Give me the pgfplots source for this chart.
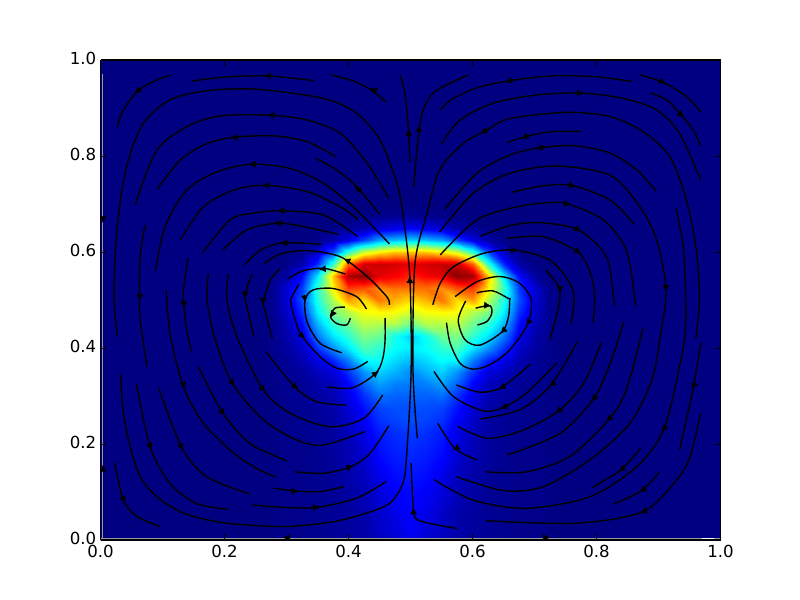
\documentclass[border=0pt]{standalone}
\usepackage{fontspec}
\setmainfont{DejaVu Sans}
\usepackage{pgfplots}
\pgfplotsset{compat=1.18}
\usetikzlibrary{arrows.meta}
\newcommand\slin[1]{\addplot[black,line width=1pt,smooth,tension=0.5,no markers] coordinates {#1};}
\newcommand\arw[1]{\addplot[black,line width=0.5pt,no markers,-{Latex[length=5pt,width=5pt]}] coordinates {#1};}
\begin{document}
\begin{tikzpicture}
\path[use as bounding box] (-1.005in,-0.6in) rectangle (6.995in,5.4in);
\begin{axis}[
  scale only axis, width=6.2in, height=4.8in,
  xmin=0,xmax=1,ymin=0,ymax=1,
  view={0}{90},
  colormap/jet, point meta min=0, point meta max=1,
  axis on top,
  axis line style={black,line width=0.8pt},
  tick align=inside, tick style={black,line width=0.5pt},
  major tick length=4pt,
  xtick={0,0.2,0.4,0.6,0.8,1}, ytick={0,0.2,0.4,0.6,0.8,1}, ztick=\empty,
  minor tick num=0,
  tick label style={font=\fontsize{12}{14}\selectfont},
  /pgf/number format/assume math mode=true,
  /pgf/number format/fixed, /pgf/number format/fixed zerofill, /pgf/number format/precision=1,
  xticklabel style={yshift=-0.5pt},
  yticklabel style={yshift=1pt,xshift=0.5pt},
]
\addplot3[surf,shader=interp,mesh/cols=23] coordinates {
(0,0,0)(.25,0,0)(.275,0,.005)(.3,0,.01)(.325,0,.01)(.35,0,.015)(.375,0,.02)(.4,0,.03)(.425,0,.04)(.45,0,.06)(.475,0,.08)(.5,0,.11)(.525,0,.08)(.55,0,.06)(.575,0,.04)(.6,0,.03)(.625,0,.02)(.65,0,.015)(.675,0,.01)(.7,0,.01)(.725,0,.005)(.75,0,0)(1,0,0)
(0,.025,0)(.25,.025,0)(.275,.025,.005)(.3,.025,.01)(.325,.025,.01)(.35,.025,.015)(.375,.025,.02)(.4,.025,.03)(.425,.025,.04)(.45,.025,.07)(.475,.025,.09)(.5,.025,.12)(.525,.025,.09)(.55,.025,.07)(.575,.025,.04)(.6,.025,.03)(.625,.025,.02)(.65,.025,.015)(.675,.025,.01)(.7,.025,.01)(.725,.025,.005)(.75,.025,0)(1,.025,0)
(0,.05,0)(.25,.05,0)(.275,.05,.005)(.3,.05,.01)(.325,.05,.01)(.35,.05,.015)(.375,.05,.02)(.4,.05,.03)(.425,.05,.04)(.45,.05,.07)(.475,.05,.10)(.5,.05,.12)(.525,.05,.10)(.55,.05,.07)(.575,.05,.04)(.6,.05,.03)(.625,.05,.02)(.65,.05,.015)(.675,.05,.01)(.7,.05,.01)(.725,.05,.005)(.75,.05,0)(1,.05,0)
(0,.075,0)(.25,.075,0)(.275,.075,.005)(.3,.075,.01)(.325,.075,.01)(.35,.075,.015)(.375,.075,.02)(.4,.075,.03)(.425,.075,.05)(.45,.075,.08)(.475,.075,.11)(.5,.075,.13)(.525,.075,.11)(.55,.075,.08)(.575,.075,.05)(.6,.075,.03)(.625,.075,.02)(.65,.075,.015)(.675,.075,.01)(.7,.075,.01)(.725,.075,.005)(.75,.075,0)(1,.075,0)
(0,.1,0)(.25,.1,0)(.275,.1,.005)(.3,.1,.01)(.325,.1,.01)(.35,.1,.015)(.375,.1,.02)(.4,.1,.035)(.425,.1,.05)(.45,.1,.09)(.475,.1,.12)(.5,.1,.13)(.525,.1,.12)(.55,.1,.09)(.575,.1,.05)(.6,.1,.035)(.625,.1,.02)(.65,.1,.015)(.675,.1,.01)(.7,.1,.01)(.725,.1,.005)(.75,.1,0)(1,.1,0)
(0,.125,0)(.25,.125,0)(.275,.125,.005)(.3,.125,.01)(.325,.125,.01)(.35,.125,.015)(.375,.125,.02)(.4,.125,.04)(.425,.125,.06)(.45,.125,.10)(.475,.125,.13)(.5,.125,.14)(.525,.125,.13)(.55,.125,.10)(.575,.125,.06)(.6,.125,.04)(.625,.125,.02)(.65,.125,.015)(.675,.125,.01)(.7,.125,.01)(.725,.125,.005)(.75,.125,0)(1,.125,0)
(0,.15,0)(.25,.15,0)(.275,.15,.005)(.3,.15,.01)(.325,.15,.01)(.35,.15,.015)(.375,.15,.025)(.4,.15,.04)(.425,.15,.07)(.45,.15,.115)(.475,.15,.14)(.5,.15,.15)(.525,.15,.14)(.55,.15,.115)(.575,.15,.07)(.6,.15,.04)(.625,.15,.025)(.65,.15,.015)(.675,.15,.01)(.7,.15,.01)(.725,.15,.005)(.75,.15,0)(1,.15,0)
(0,.175,0)(.25,.175,0)(.275,.175,.005)(.3,.175,.01)(.325,.175,.01)(.35,.175,.015)(.375,.175,.03)(.4,.175,.05)(.425,.175,.08)(.45,.175,.13)(.475,.175,.15)(.5,.175,.16)(.525,.175,.15)(.55,.175,.13)(.575,.175,.08)(.6,.175,.05)(.625,.175,.03)(.65,.175,.015)(.675,.175,.01)(.7,.175,.01)(.725,.175,.005)(.75,.175,0)(1,.175,0)
(0,.2,0)(.25,.2,0)(.275,.2,.005)(.3,.2,.01)(.325,.2,.01)(.35,.2,.02)(.375,.2,.03)(.4,.2,.05)(.425,.2,.09)(.45,.2,.14)(.475,.2,.16)(.5,.2,.17)(.525,.2,.16)(.55,.2,.14)(.575,.2,.09)(.6,.2,.05)(.625,.2,.03)(.65,.2,.02)(.675,.2,.01)(.7,.2,.01)(.725,.2,.005)(.75,.2,0)(1,.2,0)
(0,.225,0)(.25,.225,0)(.275,.225,.005)(.3,.225,.01)(.325,.225,.015)(.35,.225,.02)(.375,.225,.03)(.4,.225,.06)(.425,.225,.10)(.45,.225,.15)(.475,.225,.17)(.5,.225,.18)(.525,.225,.17)(.55,.225,.15)(.575,.225,.10)(.6,.225,.06)(.625,.225,.03)(.65,.225,.02)(.675,.225,.015)(.7,.225,.01)(.725,.225,.005)(.75,.225,0)(1,.225,0)
(0,.25,0)(.25,.25,0)(.275,.25,.005)(.3,.25,.01)(.325,.25,.015)(.35,.25,.02)(.375,.25,.035)(.4,.25,.07)(.425,.25,.12)(.45,.25,.17)(.475,.25,.19)(.5,.25,.20)(.525,.25,.19)(.55,.25,.17)(.575,.25,.12)(.6,.25,.07)(.625,.25,.035)(.65,.25,.02)(.675,.25,.015)(.7,.25,.01)(.725,.25,.005)(.75,.25,0)(1,.25,0)
(0,.275,0)(.25,.275,0)(.275,.275,.005)(.3,.275,.01)(.325,.275,.015)(.35,.275,.025)(.375,.275,.04)(.4,.275,.08)(.425,.275,.14)(.45,.275,.19)(.475,.275,.20)(.5,.275,.20)(.525,.275,.20)(.55,.275,.19)(.575,.275,.14)(.6,.275,.08)(.625,.275,.04)(.65,.275,.025)(.675,.275,.015)(.7,.275,.01)(.725,.275,.005)(.75,.275,0)(1,.275,0)
(0,.3,0)(.25,.3,0)(.275,.3,.005)(.3,.3,.015)(.325,.3,.02)(.35,.3,.03)(.375,.3,.05)(.4,.3,.10)(.425,.3,.17)(.45,.3,.23)(.475,.3,.22)(.5,.3,.22)(.525,.3,.22)(.55,.3,.23)(.575,.3,.17)(.6,.3,.10)(.625,.3,.05)(.65,.3,.03)(.675,.3,.02)(.7,.3,.015)(.725,.3,.005)(.75,.3,0)(1,.3,0)
(0,.325,0)(.25,.325,0)(.275,.325,.005)(.3,.325,.015)(.325,.325,.02)(.35,.325,.04)(.375,.325,.06)(.4,.325,.12)(.425,.325,.22)(.45,.325,.28)(.475,.325,.25)(.5,.325,.24)(.525,.325,.25)(.55,.325,.28)(.575,.325,.22)(.6,.325,.12)(.625,.325,.06)(.65,.325,.04)(.675,.325,.02)(.7,.325,.015)(.725,.325,.005)(.75,.325,0)(1,.325,0)
(0,.35,0)(.25,.35,0)(.275,.35,.01)(.3,.35,.02)(.325,.35,.03)(.35,.35,.06)(.375,.35,.09)(.4,.35,.17)(.425,.35,.27)(.45,.35,.33)(.475,.35,.30)(.5,.35,.26)(.525,.35,.30)(.55,.35,.33)(.575,.35,.27)(.6,.35,.17)(.625,.35,.09)(.65,.35,.06)(.675,.35,.03)(.7,.35,.02)(.725,.35,.01)(.75,.35,0)(1,.35,0)
(0,.375,0)(.25,.375,0)(.275,.375,.01)(.3,.375,.02)(.325,.375,.05)(.35,.375,.10)(.375,.375,.16)(.4,.375,.25)(.425,.375,.37)(.45,.375,.38)(.475,.375,.34)(.5,.375,.31)(.525,.375,.34)(.55,.375,.38)(.575,.375,.37)(.6,.375,.25)(.625,.375,.16)(.65,.375,.10)(.675,.375,.05)(.7,.375,.02)(.725,.375,.01)(.75,.375,0)(1,.375,0)
(0,.4,0)(.25,.4,0)(.275,.4,.01)(.3,.4,.03)(.325,.4,.07)(.35,.4,.17)(.375,.4,.27)(.4,.4,.35)(.425,.4,.45)(.45,.4,.42)(.475,.4,.38)(.5,.4,.36)(.525,.4,.38)(.55,.4,.42)(.575,.4,.45)(.6,.4,.35)(.625,.4,.27)(.65,.4,.17)(.675,.4,.07)(.7,.4,.03)(.725,.4,.01)(.75,.4,0)(1,.4,0)
(0,.425,0)(.25,.425,0)(.275,.425,.01)(.3,.425,.04)(.325,.425,.10)(.35,.425,.24)(.375,.425,.35)(.4,.425,.42)(.425,.425,.50)(.45,.425,.48)(.475,.425,.39)(.5,.425,.33)(.525,.425,.39)(.55,.425,.48)(.575,.425,.50)(.6,.425,.42)(.625,.425,.35)(.65,.425,.24)(.675,.425,.10)(.7,.425,.04)(.725,.425,.01)(.75,.425,0)(1,.425,0)
(0,.45,0)(.25,.45,0)(.275,.45,.01)(.3,.45,.05)(.325,.45,.13)(.35,.45,.30)(.375,.45,.42)(.4,.45,.48)(.425,.45,.56)(.45,.45,.55)(.475,.45,.55)(.5,.45,.48)(.525,.45,.55)(.55,.45,.55)(.575,.45,.56)(.6,.45,.48)(.625,.45,.42)(.65,.45,.30)(.675,.45,.13)(.7,.45,.05)(.725,.45,.01)(.75,.45,0)(1,.45,0)
(0,.475,0)(.25,.475,0)(.275,.475,.01)(.3,.475,.07)(.325,.475,.17)(.35,.475,.36)(.375,.475,.50)(.4,.475,.55)(.425,.475,.62)(.45,.475,.63)(.475,.475,.62)(.5,.475,.58)(.525,.475,.62)(.55,.475,.63)(.575,.475,.62)(.6,.475,.55)(.625,.475,.50)(.65,.475,.36)(.675,.475,.17)(.7,.475,.07)(.725,.475,.01)(.75,.475,0)(1,.475,0)
(0,.5,0)(.25,.5,0)(.275,.5,.01)(.3,.5,.08)(.325,.5,.20)(.35,.5,.40)(.375,.5,.55)(.4,.5,.72)(.425,.5,.66)(.45,.5,.76)(.475,.5,.70)(.5,.5,.66)(.525,.5,.70)(.55,.5,.76)(.575,.5,.66)(.6,.5,.72)(.625,.5,.55)(.65,.5,.40)(.675,.5,.20)(.7,.5,.08)(.725,.5,.01)(.75,.5,0)(1,.5,0)
(0,.525,0)(.25,.525,0)(.275,.525,.01)(.3,.525,.08)(.325,.525,.18)(.35,.525,.42)(.375,.525,.64)(.4,.525,.82)(.425,.525,.80)(.45,.525,.74)(.475,.525,.77)(.5,.525,.76)(.525,.525,.77)(.55,.525,.74)(.575,.525,.80)(.6,.525,.82)(.625,.525,.64)(.65,.525,.42)(.675,.525,.18)(.7,.525,.08)(.725,.525,.01)(.75,.525,0)(1,.525,0)
(0,.55,0)(.25,.55,0)(.275,.55,0)(.3,.55,.03)(.325,.55,.13)(.35,.55,.35)(.375,.55,.68)(.4,.55,.96)(.425,.55,.99)(.45,.55,.90)(.475,.55,.88)(.5,.55,.84)(.525,.55,.88)(.55,.55,.90)(.575,.55,.99)(.6,.55,.96)(.625,.55,.68)(.65,.55,.35)(.675,.55,.13)(.7,.55,.03)(.725,.55,0)(.75,.55,0)(1,.55,0)
(0,.575,0)(.25,.575,0)(.275,.575,0)(.3,.575,.005)(.325,.575,.04)(.35,.575,.16)(.375,.575,.42)(.4,.575,.78)(.425,.575,.92)(.45,.575,.93)(.475,.575,.92)(.5,.575,.90)(.525,.575,.92)(.55,.575,.93)(.575,.575,.92)(.6,.575,.78)(.625,.575,.42)(.65,.575,.16)(.675,.575,.04)(.7,.575,.005)(.725,.575,0)(.75,.575,0)(1,.575,0)
(0,.6,0)(.25,.6,0)(.275,.6,0)(.3,.6,0)(.325,.6,.01)(.35,.6,.06)(.375,.6,.20)(.4,.6,.42)(.425,.6,.58)(.45,.6,.64)(.475,.6,.68)(.5,.6,.68)(.525,.6,.68)(.55,.6,.64)(.575,.6,.58)(.6,.6,.42)(.625,.6,.20)(.65,.6,.06)(.675,.6,.01)(.7,.6,0)(.725,.6,0)(.75,.6,0)(1,.6,0)
(0,.625,0)(.25,.625,0)(.275,.625,0)(.3,.625,0)(.325,.625,0)(.35,.625,.01)(.375,.625,.04)(.4,.625,.10)(.425,.625,.19)(.45,.625,.28)(.475,.625,.31)(.5,.625,.33)(.525,.625,.31)(.55,.625,.28)(.575,.625,.19)(.6,.625,.10)(.625,.625,.04)(.65,.625,.01)(.675,.625,0)(.7,.625,0)(.725,.625,0)(.75,.625,0)(1,.625,0)
(0,.65,0)(.25,.65,0)(.275,.65,0)(.3,.65,0)(.325,.65,0)(.35,.65,0)(.375,.65,.005)(.4,.65,.02)(.425,.65,.04)(.45,.65,.08)(.475,.65,.10)(.5,.65,.12)(.525,.65,.10)(.55,.65,.08)(.575,.65,.04)(.6,.65,.02)(.625,.65,.005)(.65,.65,0)(.675,.65,0)(.7,.65,0)(.725,.65,0)(.75,.65,0)(1,.65,0)
(0,.675,0)(.25,.675,0)(.275,.675,0)(.3,.675,0)(.325,.675,0)(.35,.675,0)(.375,.675,0)(.4,.675,0)(.425,.675,.003)(.45,.675,.01)(.475,.675,.015)(.5,.675,.02)(.525,.675,.015)(.55,.675,.01)(.575,.675,.003)(.6,.675,0)(.625,.675,0)(.65,.675,0)(.675,.675,0)(.7,.675,0)(.725,.675,0)(.75,.675,0)(1,.675,0)
(0,.7,0)(.25,.7,0)(.275,.7,0)(.3,.7,0)(.325,.7,0)(.35,.7,0)(.375,.7,0)(.4,.7,0)(.425,.7,0)(.45,.7,0)(.475,.7,0)(.5,.7,0)(.525,.7,0)(.55,.7,0)(.575,.7,0)(.6,.7,0)(.625,.7,0)(.65,.7,0)(.675,.7,0)(.7,.7,0)(.725,.7,0)(.75,.7,0)(1,.7,0)
(0,1,0)(.25,1,0)(.275,1,0)(.3,1,0)(.325,1,0)(.35,1,0)(.375,1,0)(.4,1,0)(.425,1,0)(.45,1,0)(.475,1,0)(.5,1,0)(.525,1,0)(.55,1,0)(.575,1,0)(.6,1,0)(.625,1,0)(.65,1,0)(.675,1,0)(.7,1,0)(.725,1,0)(.75,1,0)(1,1,0)
};
% walls
\addplot[gray!80,line width=1pt,no markers] coordinates {(0.003,0.0)(0.003,0.97)};
\addplot[gray!80,line width=1pt,no markers] coordinates {(0,0.003)(1,0.003)};
\addplot[white,line width=1pt,no markers] coordinates {(0.97,0.002)(0.99,0.002)};
\arw{(.004,.672)(.004,.660)} \arw{(.004,.145)(.004,.157)}
\arw{(.304,.005)(.294,.005)} \arw{(.715,.005)(.725,.005)}
% centre and left cell
\slin{(.032,.346)(.037,.264)(.048,.194)(.064,.132)(.091,.090)(.134,.056)(.198,.036)(.295,.028)(.375,.038)(.429,.056)(.467,.077)(.488,.119)(.494,.181)(.501,.354)(.499,.546)(.488,.677)(.478,.743)(.451,.833)(.413,.889)(.360,.920)(.252,.939)(.172,.936)(.112,.917)(.069,.868)(.045,.792)(.032,.708)(.024,.604)(.022,.500)(.027,.424)}
\slin{(.511,.212)(.504,.354)(.507,.573)(.526,.677)(.547,.771)(.585,.826)(.623,.854)(.660,.878)(.752,.891)(.822,.882)(.875,.851)(.918,.799)(.945,.708)(.961,.604)(.966,.500)(.960,.420)}
\slin{(.501,.160)(.505,.0625)(.515,.040)(.575,.024)}
\arw{(.505,.055)(.505,.068)} \arw{(.499,.535)(.499,.550)}
\slin{(.483,.969)(.491,.931)(.497,.853)(.499,.788)}
\arw{(.497,.840)(.497,.857)}
\slin{(.027,.860)(.037,.896)(.059,.934)(.085,.955)(.113,.969)}
\arw{(.064,.940)(.055,.930)}
\slin{(.147,.956)(.198,.964)(.268,.967)(.344,.957)}
\arw{(.273,.967)(.263,.967)}
\slin{(.373,.969)(.408,.956)(.435,.939)(.460,.913)}
\arw{(.445,.935)(.435,.941)}
\slin{(.056,.698)(.091,.8125)(.145,.865)(.198,.884)(.274,.885)(.333,.875)(.387,.847)(.430,.785)(.465,.712)}
\arw{(.279,.885)(.269,.885)}
\slin{(.092,.731)(.129,.792)(.172,.826)(.215,.839)(.279,.842)(.333,.830)(.379,.799)}
\arw{(.220,.839)(.210,.838)}
\slin{(.347,.795)(.381,.771)(.413,.736)(.450,.679)}
\arw{(.420,.726)(.410,.737)}
\slin{(.089,.561)(.104,.653)(.139,.729)(.188,.767)(.244,.783)(.306,.774)(.360,.743)(.413,.6875)(.466,.617)}
\arw{(.249,.783)(.239,.783)}
\slin{(.129,.626)(.166,.694)(.215,.729)(.266,.739)(.333,.726)(.387,.694)(.415,.668)}
\arw{(.271,.739)(.261,.739)}
\slin{(.165,.599)(.209,.667)(.247,.681)(.290,.686)(.360,.677)(.415,.632)}
\arw{(.295,.686)(.285,.687)}
\slin{(.197,.604)(.236,.646)(.285,.660)(.327,.653)(.383,.637)}
\arw{(.290,.660)(.280,.660)}
\slin{(.232,.573)(.258,.604)(.295,.619)(.357,.616)}
\arw{(.300,.619)(.290,.619)}
\slin{(.264,.576)(.290,.596)(.333,.603)(.387,.590)(.430,.549)(.457,.514)(.465,.500)(.466,.490)}
\arw{(.402,.580)(.392,.586)}
\slin{(.302,.544)(.327,.561)(.360,.566)(.395,.554)}
\arw{(.362,.565)(.352,.564)}
\slin{(.429,.481)(.413,.507)(.375,.524)(.343,.521)(.330,.500)(.333,.455)(.354,.410)(.389,.390)}
\arw{(.329,.510)(.330,.495)}
\slin{(.394,.485)(.378,.483)(.371,.465)(.381,.451)(.397,.448)(.403,.462)}
\arw{(.376,.475)(.371,.463)}
\slin{(.459,.462)(.459,.417)(.456,.382)(.448,.354)(.430,.333)(.403,.316)(.365,.319)}
\arw{(.440,.343)(.449,.352)}
\slin{(.320,.533)(.309,.507)(.307,.493)(.322,.431)(.354,.382)(.381,.358)(.408,.356)(.431,.372)}
\arw{(.322,.429)(.330,.420)}
\slin{(.072,.656)(.064,.590)(.063,.500)(.064,.458)(.075,.361)}
\arw{(.063,.513)(.063,.498)}
\slin{(.106,.521)(.112,.431)(.134,.319)(.166,.243)(.215,.181)(.252,.149)(.282,.131)}
\arw{(.133,.327)(.136,.315)}
\slin{(.141,.587)(.134,.521)(.134,.493)(.139,.4375)(.147,.392)}
\arw{(.134,.498)(.135,.483)}
\slin{(.174,.554)(.172,.500)(.185,.417)(.213,.326)(.263,.250)(.317,.208)(.360,.198)(.427,.226)}
\arw{(.210,.332)(.216,.320)}
\slin{(.206,.554)(.204,.500)(.220,.424)(.262,.314)(.306,.264)(.370,.236)(.424,.253)(.455,.302)}
\arw{(.258,.320)(.266,.308)}
\slin{(.244,.554)(.233,.510)(.235,.493)(.247,.4257)}
\arw{(.233,.518)(.233,.503)}
\slin{(.290,.566)(.274,.542)(.263,.500)(.263,.490)(.277,.420)}
\arw{(.262,.504)(.262,.490)}
\slin{(.267,.392)(.314,.318)(.349,.288)(.396,.281)}
\arw{(.309,.325)(.319,.314)}
\slin{(.158,.361)(.196,.267)(.241,.201)(.301,.165)}
\arw{(.192,.275)(.200,.259)}
\slin{(.094,.316)(.131,.193)(.171,.132)(.240,.096)}
\arw{(.126,.205)(.134,.187)}
\slin{(.058,.325)(.080,.194)(.112,.118)(.155,.076)(.206,.064)}
\arw{(.078,.205)(.082,.187)}
\slin{(.023,.160)(.037,.083)(.059,.049)(.096,.028)}
\arw{(.034,.093)(.040,.077)}
\slin{(.313,.142)(.360,.139)(.404,.153)(.435,.181)(.465,.238)}
\arw{(.398,.150)(.408,.155)}
\slin{(.279,.108)(.314,.102)(.354,.101)(.393,.111)}
\arw{(.309,.102)(.319,.102)}
\slin{(.244,.073)(.295,.068)(.349,.068)(.413,.087)(.461,.122)}
\arw{(.344,.068)(.354,.068)}
% right cell
\slin{(.505,.736)(.515,.865)(.526,.913)(.545,.939)(.593,.969)}
\arw{(.513,.850)(.515,.865)}
\slin{(.548,.896)(.569,.920)(.612,.944)(.666,.958)(.730,.967)(.800,.965)(.858,.955)}
\arw{(.660,.957)(.670,.959)}
\slin{(.550,.826)(.580,.875)(.633,.910)(.703,.927)(.776,.931)(.843,.920)(.897,.896)(.934,.847)(.968,.750)}
\arw{(.770,.931)(.780,.931)}
\slin{(.870,.969)(.908,.953)(.945,.924)(.968,.892)}
\arw{(.903,.956)(.912,.951)}
\slin{(.887,.931)(.913,.917)(.937,.885)(.956,.854)(.968,.822)}
\arw{(.933,.890)(.941,.880)}
\slin{(.656,.828)(.690,.842)(.730,.851)(.775,.851)}
\arw{(.685,.840)(.695,.844)}
\arw{(.618,.851)(.628,.857)}
\slin{(.555,.689)(.607,.764)(.660,.802)(.714,.818)(.768,.821)(.822,.806)(.865,.771)(.896,.727)}
\arw{(.709,.817)(.719,.819)}
\slin{(.547,.642)(.601,.722)(.660,.764)(.736,.779)(.822,.760)(.870,.694)(.897,.625)(.912,.521)(.902,.417)(.889,.333)(.854,.243)(.789,.167)(.714,.111)(.650,.103)(.574,.132)}
\arw{(.912,.530)(.912,.517)}
\slin{(.548,.594)(.607,.667)(.671,.694)(.725,.703)(.754,.700)(.811,.667)(.848,.604)(.862,.500)(.862,.488)}
\arw{(.749,.701)(.759,.698)}
\slin{(.663,.724)(.714,.738)(.762,.738)(.822,.708)(.861,.658)}
\arw{(.757,.739)(.767,.737)}
\slin{(.613,.633)(.660,.655)(.709,.661)(.771,.646)(.816,.590)(.828,.500)(.828,.488)}
\arw{(.766,.650)(.775,.642)}
\slin{(.655,.628)(.714,.632)(.771,.599)(.792,.549)(.797,.500)(.794,.453)}
\arw{(.767,.604)(.775,.595)}
\slin{(.536,.490)(.548,.535)(.569,.569)(.617,.597)(.668,.604)(.725,.583)(.757,.535)(.764,.500)(.759,.451)}
\arw{(.663,.604)(.673,.604)}
\slin{(.572,.507)(.607,.538)(.644,.549)(.676,.535)(.695,.500)(.689,.450)(.660,.396)(.628,.365)(.601,.356)(.580,.368)(.564,.410)(.558,.453)}
\arw{(.692,.458)(.687,.446)}
\slin{(.607,.515)(.633,.519)(.658,.503)(.660,.500)(.658,.465)(.648,.434)(.612,.406)(.588,.417)(.577,.458)(.589,.498)}
\arw{(.653,.440)(.645,.430)}
\slin{(.605,.483)(.628,.488)(.631,.472)(.623,.455)(.608,.448)}
\arw{(.620,.489)(.630,.488)}
\slin{(.718,.5625)(.736,.535)(.741,.517)(.739,.486)(.725,.418)}
\arw{(.741,.527)(.741,.514)}
\slin{(.928,.691)(.940,.611)(.944,.500)(.943,.431)(.934,.361)(.908,.229)(.865,.153)(.789,.090)(.687,.066)(.601,.083)(.538,.126)}
\arw{(.911,.236)(.905,.225)}
\slin{(.968,.411)(.956,.316)(.934,.188)}
\arw{(.958,.325)(.955,.313)}
\slin{(.968,.264)(.951,.174)(.929,.125)(.875,.059)(.768,.035)(.622,.040)}
\arw{(.880,.061)(.870,.057)}
\slin{(.875,.441)(.848,.3125)(.819,.250)(.757,.174)(.687,.142)(.622,.142)}
\arw{(.823,.256)(.816,.246)}
\slin{(.844,.454)(.822,.368)(.795,.294)(.741,.222)(.656,.177)}
\arw{(.799,.300)(.792,.289)}
\slin{(.808,.413)(.779,.326)(.737,.267)(.676,.226)(.623,.212)(.577,.236)}
\arw{(.742,.272)(.734,.264)}
\slin{(.769,.413)(.726,.322)(.676,.271)(.612,.252)}
\arw{(.732,.328)(.724,.320)}
\slin{(.736,.369)(.687,.306)(.650,.276)(.617,.269)(.569,.299)(.538,.351)}
\arw{(.655,.279)(.645,.275)}
\slin{(.694,.367)(.647,.318)(.612,.308)(.574,.323)}
\arw{(.652,.321)(.642,.315)}
\slin{(.871,.191)(.839,.146)(.793,.109)}
\arw{(.844,.150)(.835,.143)}
\slin{(.901,.141)(.873,.103)(.828,.075)}
\arw{(.878,.107)(.869,.100)}
\slin{(.544,.243)(.572,.190)(.607,.167)}
\arw{(.577,.193)(.568,.187)}
\end{axis}
\end{tikzpicture}
\end{document}
